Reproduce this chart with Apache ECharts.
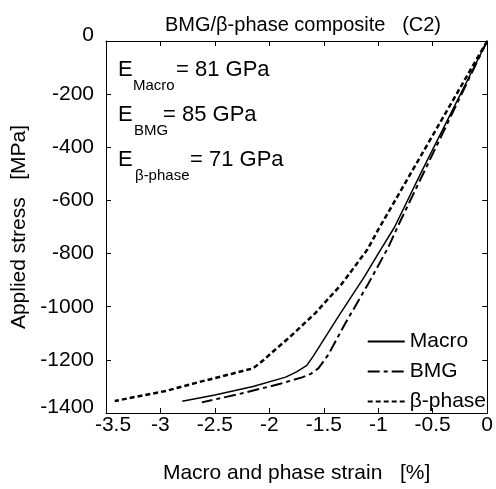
<!DOCTYPE html>
<html>
<head>
<meta charset="utf-8">
<title>BMG/β-phase composite (C2)</title>
<script src="https://cdn.jsdelivr.net/npm/echarts@6/dist/echarts.min.js"></script>
<style>
    html, body { margin: 0; padding: 0; background: #fff; }
    #stress_strain { width: 496px; height: 489px; }
</style>
</head>
<body>
<div id="stress_strain"></div>
<script>
// ------------------------------
// Data (strain in %, stress in MPa)
// ------------------------------

var macroStrain = [0, -0.6, -0.85, -1.0, -1.124, -1.367, -1.595, -1.656, -1.75, -1.85, -2.15, -2.5, -2.8];
var macroStress = [0, -490, -700, -800, -885, -1037, -1185, -1221, -1245, -1265, -1300, -1332, -1356];

var bmgStrain = [0, -0.5, -0.8, -0.91, -1.094, -1.306, -1.458, -1.55, -1.62, -1.7, -1.9, -2.25, -2.62];
var bmgStress = [0, -425, -680, -778, -915, -1065, -1180, -1232, -1253, -1266, -1290, -1326, -1360];

var betaStrain = [0, -0.5, -1.0, -1.1, -1.337, -1.58, -1.82, -1.975, -2.05, -2.15, -2.34, -2.64, -2.95, -3.2, -3.42];
var betaStress = [0, -355, -710, -785, -915, -1025, -1117, -1172, -1200, -1232, -1252, -1283, -1317, -1337, -1355];

var seriesNames = ['Macro', 'BMG', 'β-phase'];

var moduli = [
    { sub: 'Macro', value: '= 81 GPa' },
    { sub: 'BMG', value: '= 85 GPa' },
    { sub: 'β-phase', value: '= 71 GPa' }
];


// Setup module
// ------------------------------

var EchartsStressStrain = function() {

    var FONT = 'Liberation Sans, Arial, Helvetica, sans-serif';

    var pairs = function(xs, ys) {
        var out = [];
        for (var i = 0; i < xs.length; i++) {
            out.push([xs[i], ys[i]]);
        }
        return out;
    };

    // Modulus annotations, E with a subscript
    var annotation = function(row, y, subX, valueX) {
        return {
            type: 'group',
            children: [
                { type: 'text', x: 118, y: y, style: { text: 'E', font: '22px ' + FONT, fill: '#000', verticalAlign: 'middle' } },
                { type: 'text', x: subX, y: y + 16, style: { text: row.sub, font: '15px ' + FONT, fill: '#000', verticalAlign: 'middle' } },
                { type: 'text', x: valueX, y: y, style: { text: row.value, font: '22px ' + FONT, fill: '#000', verticalAlign: 'middle' } }
            ]
        };
    };

    var _stressStrainChart = function() {
        if (typeof echarts == 'undefined') {
            console.warn('Warning - echarts.min.js is not loaded.');
            return;
        }

        var element = document.getElementById('stress_strain');
        if (!element) {
            return;
        }

        var chart = echarts.init(element);

        var axisCommon = {
            type: 'value',
            axisLine: { show: true, onZero: false, lineStyle: { color: '#000', width: 1 } },
            axisTick: { show: true, inside: true, length: 5, lineStyle: { color: '#000' } },
            splitLine: { show: false }
        };

        chart.setOption({
            animation: false,

            textStyle: {
                fontFamily: FONT,
                color: '#000'
            },

            title: {
                text: 'BMG/β-phase composite   (C2)',
                left: 298,
                top: 10,
                textAlign: 'center',
                textStyle: { fontSize: 20, fontWeight: 'normal', color: '#000', fontFamily: FONT }
            },

            grid: {
                left: 106,
                right: 6,
                top: 41,
                bottom: 67,
                containLabel: false
            },

            legend: {
                orient: 'vertical',
                right: 10,
                top: 331,
                padding: 0,
                itemWidth: 37,
                itemHeight: 14,
                itemGap: 9,
                data: seriesNames,
                itemStyle: { opacity: 0 },
                textStyle: { fontSize: 21, color: '#000', fontFamily: FONT }
            },

            xAxis: [
                echarts.util.merge({
                    min: -3.5,
                    max: 0,
                    interval: 0.5,
                    name: 'Macro and phase strain   [%]',
                    nameLocation: 'middle',
                    nameGap: 50,
                    nameTextStyle: { fontSize: 21, color: '#000' },
                    axisLabel: {
                        color: '#000',
                        fontSize: 21,
                        margin: 2,
                        formatter: function(v) {
                            return v === -3.5 ? '{f|-3.5}' : String(v);
                        },
                        rich: { f: { fontSize: 21, padding: [0, 0, 0, 14] } }
                    }
                }, axisCommon, true),
                echarts.util.merge({
                    position: 'top',
                    min: -3.5,
                    max: 0,
                    interval: 0.5,
                    axisLabel: { show: false }
                }, axisCommon, true)
            ],

            yAxis: [
                echarts.util.merge({
                    min: -1400,
                    max: 0,
                    interval: 200,
                    name: 'Applied stress   [MPa]',
                    nameLocation: 'middle',
                    nameGap: 66,
                    nameTextStyle: { fontSize: 21, color: '#000' },
                    axisLabel: {
                        color: '#000',
                        fontSize: 21,
                        margin: 12,
                        formatter: function(v) {
                            if (v === -1400) return '{lo|-1400}';
                            if (v === 0) return '{hi|0}';
                            return String(v);
                        },
                        rich: {
                            lo: { fontSize: 21, padding: [0, 0, 12, 0] },
                            hi: { fontSize: 21, padding: [0, 0, 12, 0] }
                        }
                    }
                }, axisCommon, true),
                echarts.util.merge({
                    position: 'right',
                    min: -1400,
                    max: 0,
                    interval: 200,
                    axisLabel: { show: false }
                }, axisCommon, true)
            ],

            graphic: [
                annotation(moduli[0], 70, 133, 176),
                annotation(moduli[1], 115, 134, 163),
                annotation(moduli[2], 160, 135, 190)
            ],

            series: [
                {
                    name: seriesNames[0],
                    type: 'line',
                    symbol: 'none',
                    lineStyle: { color: '#000', width: 1.5, type: 'solid' },
                    itemStyle: { color: '#000' },
                    data: pairs(macroStrain, macroStress)
                },
                {
                    name: seriesNames[1],
                    type: 'line',
                    symbol: 'none',
                    lineStyle: { color: '#000', width: 2, type: [12, 4, 4, 4] },
                    itemStyle: { color: '#000' },
                    data: pairs(bmgStrain, bmgStress)
                },
                {
                    name: seriesNames[2],
                    type: 'line',
                    symbol: 'none',
                    lineStyle: { color: '#000', width: 2.5, type: [5, 3] },
                    itemStyle: { color: '#000' },
                    data: pairs(betaStrain, betaStress)
                }
            ]
        });

        window.addEventListener('resize', function() {
            chart.resize();
        });
    };

    return {
        init: function() {
            _stressStrainChart();
        }
    };
}();


// Initialize module
// ------------------------------

document.addEventListener('DOMContentLoaded', function() {
    EchartsStressStrain.init();
});
</script>
</body>
</html>
